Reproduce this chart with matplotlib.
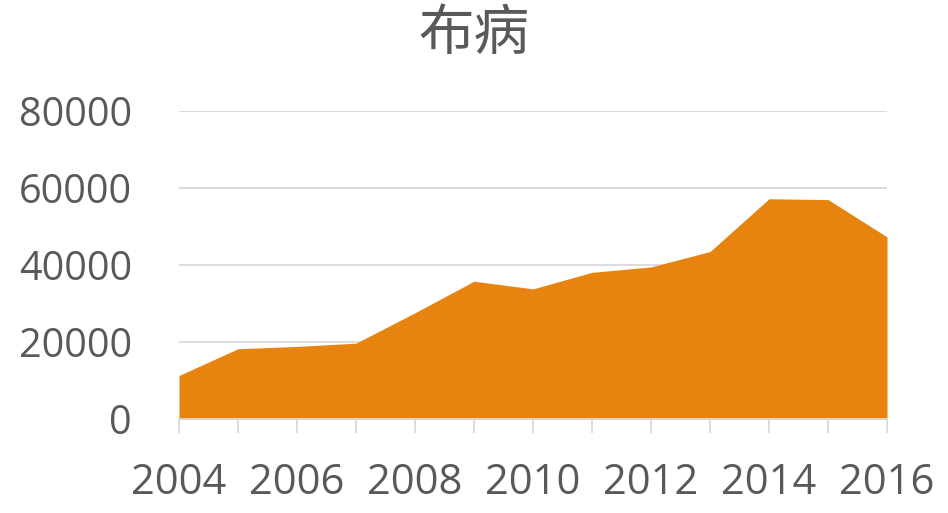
import numpy as np
import matplotlib.pyplot as plt

years = [2004, 2005, 2006, 2007, 2008, 2009, 2010, 2011, 2012, 2013, 2014, 2015, 2016]
cases = [11300, 18250, 18850, 19700, 27600, 35800, 33800, 38100, 39500, 43500, 57200, 57000, 47300]
label_years = [2004, 2006, 2008, 2010, 2012, 2014, 2016]
y_ticks = [0, 20000, 40000, 60000, 80000]

fig = plt.figure(figsize=(9.48, 5.13), dpi=100)
ax = fig.add_axes([0.1888, 0.1832, 0.9357 - 0.1888, 0.7836 - 0.1832])

ax.fill_between(years, cases, 0, color='#E6840F', linewidth=0, zorder=2)

ax.set_xlim(years[0], years[-1])
ax.set_ylim(0, 80000)
ax.set_yticks(y_ticks)
ax.set_yticklabels([str(v) for v in y_ticks])
ax.set_xticks(years, minor=True)
ax.set_xticks(label_years)
ax.set_xticklabels([str(y) for y in label_years])

ax.grid(axis='y', color='#D9D9D9', linewidth=1.3, zorder=0)
for s in ['top', 'right', 'left']:
    ax.spines[s].set_visible(False)
ax.spines['bottom'].set_color('#D9D9D9')
ax.spines['bottom'].set_linewidth(1.3)
ax.spines['bottom'].set_zorder(3)

ax.tick_params(axis='y', length=0, pad=34, labelsize=28.5, labelcolor='#595959')
ax.tick_params(axis='x', which='both', length=10, width=1.3, color='#D9D9D9',
               pad=21, labelsize=30, labelcolor='#595959')
for lbl in ax.get_xticklabels() + ax.get_yticklabels():
    lbl.set_fontfamily('Open Sans')

fig.suptitle('布病', x=0.5, y=0.99, fontsize=40, color='#595959',
             family=['Noto Sans CJK SC', 'DejaVu Sans'])

fig.savefig('out.png', dpi=100)
